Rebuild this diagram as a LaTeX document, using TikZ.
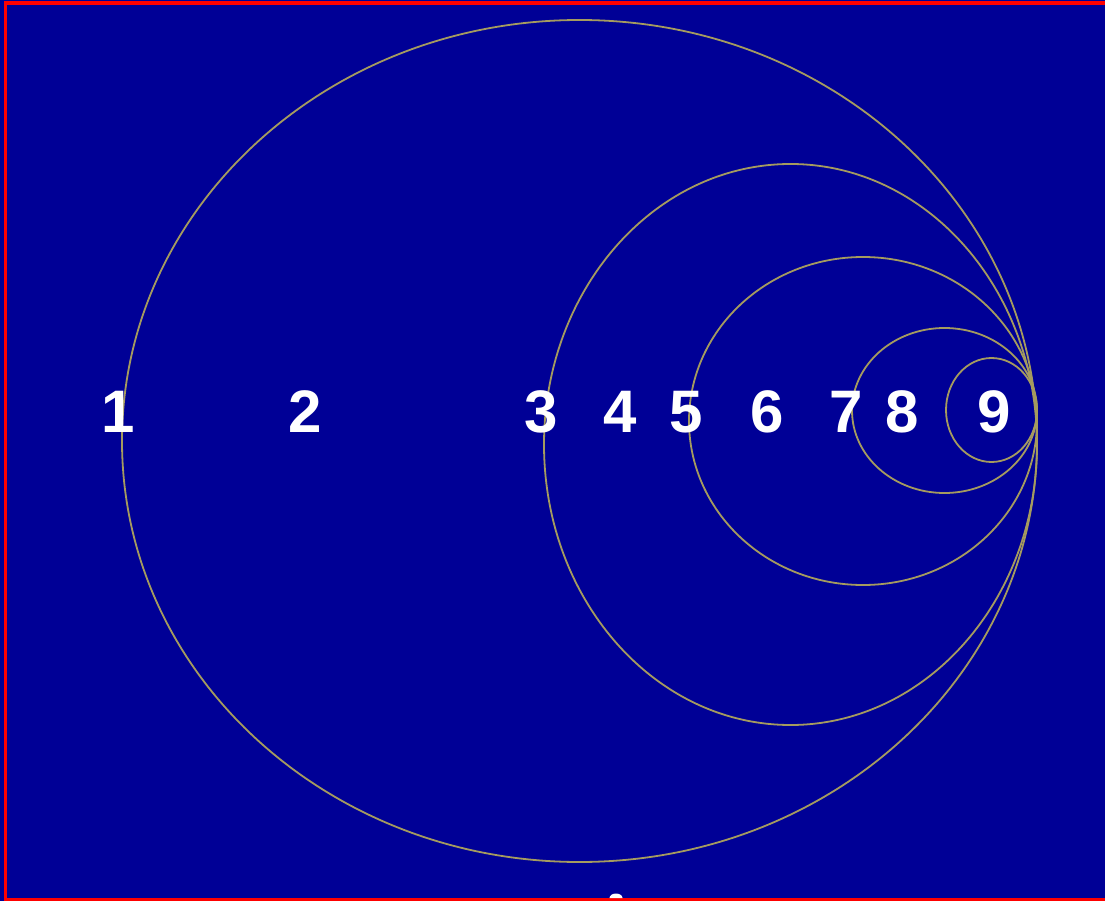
\documentclass[tikz,border=0pt]{standalone}
\usepackage{fontspec}
\setmainfont{Liberation Sans}
\usetikzlibrary{positioning}
\definecolor{bgblue}{RGB}{0,0,150}
\definecolor{ringcol}{RGB}{165,155,95}
\definecolor{frame}{RGB}{255,0,0}

\begin{document}
\begin{tikzpicture}[x=1pt,y=-1pt,
  num/.style={text=white,font=\fontsize{60}{62}\selectfont\bfseries,inner sep=0pt},
  ring/.style={draw=ringcol,line width=1.8pt},
  edge/.style={draw=frame,line width=3.5pt}]
\useasboundingbox (0,0) rectangle (1105,901);
\fill[bgblue] (0,0) rectangle (1105,901);
% frame
\draw[edge] (5.5,901) -- (5.5,3) -- (1105,3);
\draw[edge] (4,899.5) -- (1105,899.5);
\fill[white] (609.5,898) arc[start angle=180,end angle=360,x radius=6.5,y radius=4.5] -- cycle;
% nested rings, all touching at the right
\draw[ring] (579.5,441) ellipse [x radius=457.5,y radius=421];
\draw[ring] (790.5,444.5) ellipse [x radius=246.5,y radius=280.5];
\draw[ring] (863,421) ellipse [x radius=174,y radius=164];
\draw[ring] (944.5,410.5) ellipse [x radius=92.5,y radius=82.5];
\draw[ring] (991.5,410) ellipse [x radius=45.5,y radius=52];
% labels
\node[num] (l1) at (118,412) {1};
\node[num] (l2) at (305,412) {2};
\node[num] (l3) at (541,412) {3};
\node[num] (l4) at (620,412) {4};
\node[num] (l5) at (686,412) {5};
\node[num] (l6) at (767,412) {6};
\node[num] (l7) at (846,412) {7};
\node[num] (l8) at (902,412) {8};
\node[num] (l9) at (994,412) {9};
\end{tikzpicture}
\end{document}
